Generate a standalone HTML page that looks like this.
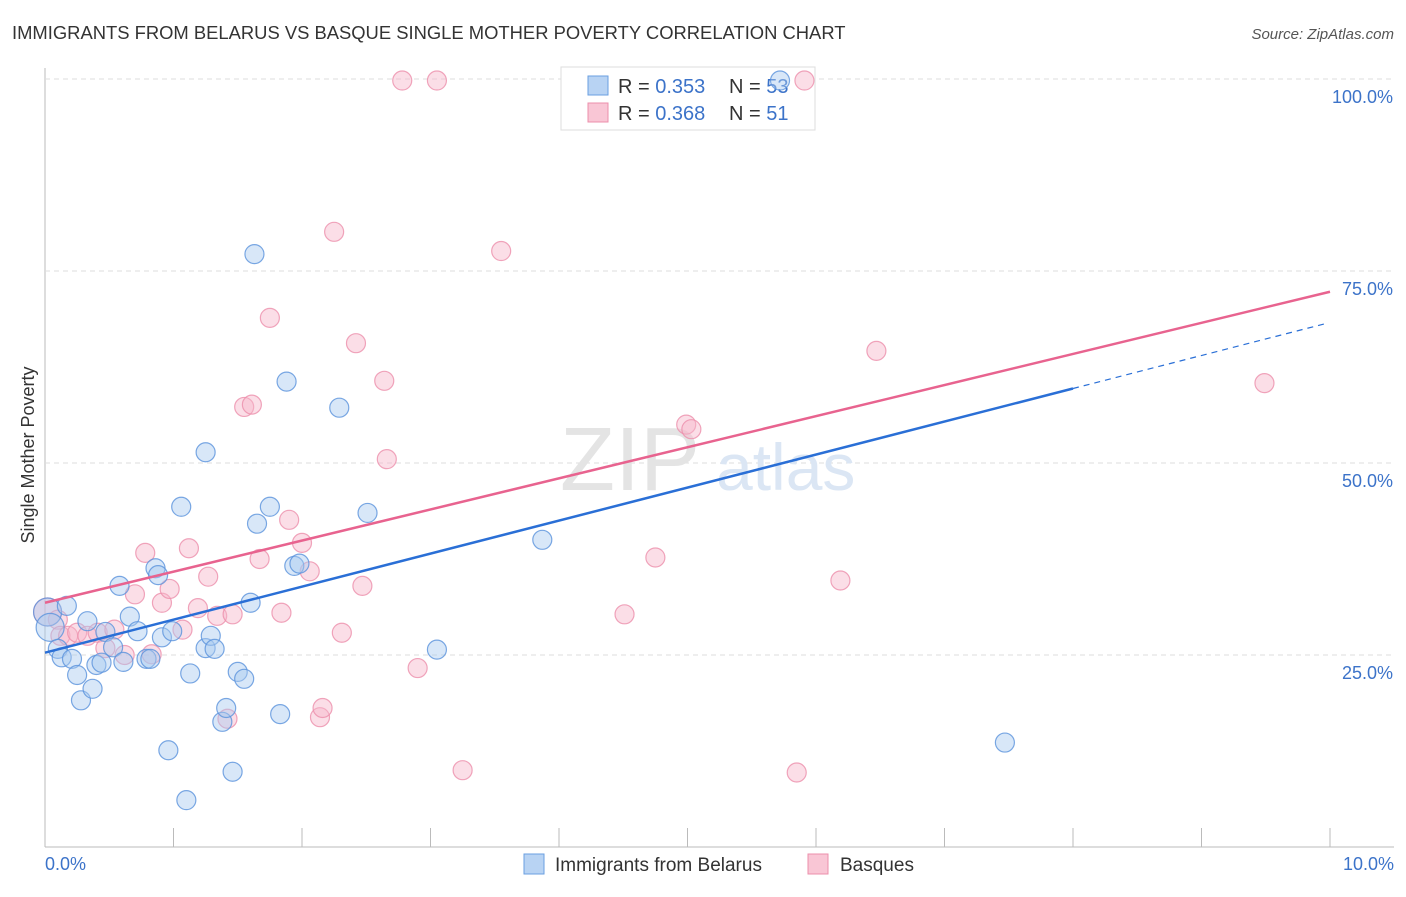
<!DOCTYPE html>
<html><head><meta charset="utf-8"><style>
body{margin:0;background:#fff;font-family:"Liberation Sans",sans-serif;}
svg text{font-family:"Liberation Sans",sans-serif;}
</style></head><body>
<svg id="chart" width="1406" height="892" viewBox="0 0 1406 892">
<text x="12" y="39" font-size="18.4" fill="#333">IMMIGRANTS FROM BELARUS VS BASQUE SINGLE MOTHER POVERTY CORRELATION CHART</text>
<text x="1394" y="39" font-size="15" fill="#555" text-anchor="end" font-style="italic">Source: ZipAtlas.com</text>
<g id="grid"></g>
<text x="700" y="490" font-size="90" fill="#e4e4e4" text-anchor="end" font-family="Liberation Serif">ZIP</text>
<text x="716" y="490" font-size="66" fill="#dbe6f4">atlas</text>
<text transform="translate(34,455) rotate(-90)" font-size="18" fill="#333" text-anchor="middle">Single Mother Poverty</text>
<g>
<rect x="561" y="67" width="254" height="63" fill="#fff" stroke="#ddd"/>
<rect x="588" y="76" width="20" height="19" fill="#b8d3f3" stroke="#6a9fe0"/>
<rect x="588" y="103" width="20" height="19" fill="#f9c6d5" stroke="#ec8fab"/>
<text x="618" y="93" font-size="20" fill="#333">R = <tspan fill="#3c73c9">0.353</tspan></text>
<text x="729" y="93" font-size="20" fill="#333">N = <tspan fill="#3c73c9">53</tspan></text>
<text x="618" y="120" font-size="20" fill="#333">R = <tspan fill="#3c73c9">0.368</tspan></text>
<text x="729" y="120" font-size="20" fill="#333">N = <tspan fill="#3c73c9"> 51</tspan></text>
</g>
<g>
<rect x="524" y="854" width="20" height="20" fill="#b8d3f3" stroke="#6a9fe0"/>
<text x="555" y="871" font-size="19" fill="#333">Immigrants from Belarus</text>
<rect x="808" y="854" width="20" height="20" fill="#f9c6d5" stroke="#ec8fab"/>
<text x="840" y="871" font-size="19" fill="#333">Basques</text>
</g>
<g id="marks"></g>
</svg>
<script>
const xTicks=[0,1,2,3,4,5,6,7,8,9,10];
const yTicks=[25,50,75,100];
const yTickLabels=["25.0%","50.0%","75.0%","100.0%"];
const blueX=[0.02,0.17,0.04,0.1,0.13,0.21,0.25,0.28,0.33,0.37,0.4,0.44,0.47,0.53,0.58,0.61,0.66,0.72,0.79,0.82,0.86,0.88,0.91,0.96,0.99,1.25,1.06,1.1,1.13,1.25,1.29,1.32,1.38,1.41,1.46,1.5,1.55,1.6,1.63,1.65,1.75,1.83,1.88,1.94,1.98,2.29,2.51,3.05,3.87,5.72,7.47];
const blueY=[30.6,31.4,28.6,25.8,24.7,24.5,22.4,19.1,29.4,20.6,23.7,24.0,28.0,26.0,34.0,24.1,30.0,28.1,24.5,24.5,36.3,35.4,27.3,12.6,28.1,51.4,44.3,6.1,22.6,25.9,27.5,25.8,16.3,18.1,9.8,22.8,21.9,31.8,77.2,42.1,44.3,17.3,60.6,36.6,36.9,57.2,43.5,25.7,40.0,99.8,13.6];
const pinkX=[0.02,0.1,0.12,0.18,0.25,0.33,0.41,0.47,0.54,0.62,0.7,0.78,0.83,0.91,0.97,1.07,1.12,1.19,1.27,1.34,1.42,1.46,1.55,1.61,1.67,1.75,1.84,1.9,2.0,2.06,2.14,2.16,2.25,2.31,2.42,2.47,2.64,2.66,2.78,2.9,3.05,3.25,3.55,4.51,4.75,4.99,5.03,5.85,5.91,6.19,6.47,9.49];
const pinkY=[30.6,29.6,27.5,27.5,27.9,27.5,27.9,25.9,28.3,25.0,32.9,38.3,25.1,31.8,33.6,28.3,38.9,31.1,35.2,30.1,16.7,30.3,57.3,57.6,37.5,68.9,30.5,42.6,39.6,35.9,16.9,18.1,80.1,27.9,65.6,34.0,60.7,50.5,99.8,23.3,99.8,10.0,77.6,30.3,37.7,55.0,54.4,9.7,99.8,34.7,64.6,60.4];
const X=v=>45+v*128.5, Y=v=>847-v*7.68;
const NS="http://www.w3.org/2000/svg";
const grid=document.getElementById('grid'), marks=document.getElementById('marks');
function mk(p,tag,a){const e=document.createElementNS(NS,tag);for(const k in a)e.setAttribute(k,a[k]);p.appendChild(e);return e;}
let e=mk(grid,'line',{x1:45,y1:68,x2:45,y2:847,stroke:'#bbb'});


e=mk(grid,'line',{x1:45,y1:847,x2:1394,y2:847,stroke:'#bbb'});


yTicks.forEach((t,i)=>{
 let g=mk(grid,'line',{x1:45,y1:Y(t),x2:1394,y2:Y(t),stroke:'#ddd','stroke-dasharray':'5,4'});
 
 
 let l=mk(grid,'text',{x:1393,y:Y(t)+24,'font-size':18,fill:'#3c73c9','text-anchor':'end'});l.textContent=yTickLabels[i];
 
 
});
xTicks.forEach(t=>{
 let g=mk(grid,'line',{x1:X(t),y1:828,x2:X(t),y2:847,stroke:'#bbb'});
 
 
});
let xl=mk(grid,'text',{x:45,y:870,'font-size':18,fill:'#3c73c9'});xl.textContent='0.0%';


xl=mk(grid,'text',{x:1394,y:870,'font-size':18,fill:'#3c73c9','text-anchor':'end'});xl.textContent='10.0%';


function dots(xs,ys,fill,stroke,name){xs.forEach((x,i)=>{const r=(x<0.05)?14:9.5;let c=mk(marks,'circle',{cx:X(x),cy:Y(ys[i]),r:r,fill:fill,'fill-opacity':0.45,stroke:stroke,'stroke-width':1.2,'stroke-opacity':0.8});
 
 });}
dots(pinkX,pinkY,'#f7b6c9','#ec8fab','basques-point');
dots(blueX,blueY,'#a9c9f0','#5a92dc','belarus-point');
const fb=[25.3,4.3],fp=[31.8,4.05];
let ln=mk(marks,'line',{x1:X(0),y1:Y(fb[0]),x2:X(8),y2:Y(fb[0]+fb[1]*8),stroke:'#2a6fd6','stroke-width':2.5});


ln=mk(marks,'line',{x1:X(8),y1:Y(fb[0]+fb[1]*8),x2:X(9.96),y2:Y(fb[0]+fb[1]*9.96),stroke:'#2a6fd6','stroke-width':1.2,'stroke-dasharray':'6,5'});


ln=mk(marks,'line',{x1:X(0),y1:Y(fp[0]),x2:X(10),y2:Y(fp[0]+fp[1]*10),stroke:'#e8638f','stroke-width':2.5});


</script>
</body></html>
